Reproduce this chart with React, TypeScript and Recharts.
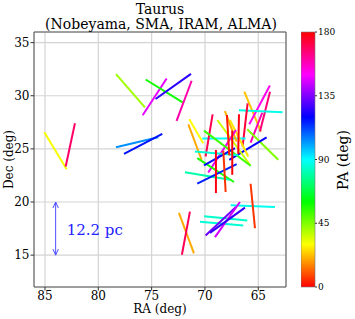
import React from 'react';
import { ComposedChart, Scatter, XAxis, YAxis, CartesianGrid, ReferenceArea, BarChart, Bar } from 'recharts';

const FONT = '"DejaVu Serif", serif';

// polarization segments: end points (deg) and position angle (deg)
const raStart = [
  85.06, 83.06, 78.34, 75.84, 75.56, 74.63, 72.66, 78.34, 77.59,
  66.31, 63.91, 63.9, 66.81, 66.0, 64.63, 66.03, 67.72, 70.25,
  71.47, 71.56, 69.28, 68.84, 68.13, 67.66, 67.09, 70.09, 70.94,
  70.72, 71.88, 70.72, 70.09, 68.97, 68.28, 67.94, 67.44, 66.81,
  72.44, 72.16, 67.59, 65.72, 70.09, 70.47, 69.94, 69.06, 69.53,
];
const decStart = [
  26.56, 23.34, 32.03, 28.16, 31.53, 29.69, 27.63, 25.16, 24.53,
  30.38, 30.97, 30.38, 28.63, 29.28, 28.4, 26.84, 23.97, 25.97,
  27.78, 27.31, 28.25, 27.72, 28.56, 27.72, 26.78, 26.72, 24.75,
  24.13, 22.81, 21.72, 23.44, 24.9, 24.84, 28.19, 26.72, 28.25,
  18.97, 15.03, 19.69, 21.72, 18.66, 18.13, 16.84, 16.69, 17.09,
];
const raEnd = [
  82.97, 82.19, 75.63, 73.59, 72.09, 71.31, 71.25, 74.38, 74.0,
  64.75, 65.84, 64.84, 62.72, 66.47, 65.72, 63.13, 64.22, 66.19,
  70.16, 70.31, 69.94, 65.72, 67.03, 65.94, 69.69, 65.72, 66.88,
  67.28, 67.66, 67.03, 67.19, 68.97, 68.06, 67.72, 67.44, 66.88,
  71.03, 71.41, 63.44, 65.31, 66.03, 66.41, 67.09, 66.72, 66.25,
];
const decEnd = [
  23.09, 27.41, 28.9, 31.63, 29.38, 32.06, 31.41, 26.09, 26.41,
  26.63, 27.31, 26.63, 28.44, 25.22, 25.59, 23.97, 26.09, 25.97,
  25.53, 23.97, 24.28, 23.41, 25.69, 24.28, 22.78, 23.41, 24.41,
  21.88, 22.09, 23.56, 25.06, 20.84, 20.94, 24.4, 22.56, 24.53,
  15.16, 19.09, 19.53, 17.53, 18.25, 17.78, 19.53, 20.0, 19.47,
];
const posAngle = [
  31, 168, 41, 147, 58, 125, 160, 103, 118,
  23, 152, 166, 87, 173, 159, 45, 121, 90,
  30, 20, 171, 36, 21, 27, 147, 53, 85,
  57, 80, 116, 119, 178, 6, 3, 0, 178,
  20, 170, 88, 6, 84, 85, 133, 145, 126,
];

const raTicks = [65, 70, 75, 80, 85];
const decTicks = [15, 20, 25, 30, 35];
const paTicks = [0, 45, 90, 135, 180];
const cbarStops = [0, 30, 60, 90, 120, 150, 180];
const cbarData = [{ name: 'PA', v: 180 }];

// 12.2 pc scale bar
const scaleBar = [{ x: 84, y: 15 }, { x: 84, y: 20 }];
const scaleText = [{ x: 82.97, y: 17.4, text: '12.2 pc' }];

const paColor = (pa: number) => `hsl(${(pa * 2) % 360}, 100%, 50%)`;

const ArrowHead = (props: any) => {
  const { cx, cy, payload } = props;
  const dir = payload.y > 17.5 ? 1 : -1; // top end points up
  return (
    <path
      d={`M${cx - 2.7},${cy + dir * 6} L${cx},${cy} L${cx + 2.7},${cy + dir * 6}`}
      fill="none"
      stroke="#4d4dff"
      strokeWidth={1}
    />
  );
};

const ScaleLabel = (props: any) => (
  <text x={props.cx} y={props.cy} dominantBaseline="central" fontSize={15} fontFamily={FONT} fill="#2222ff">
    {props.payload.text}
  </text>
);

export default function App() {
  const tickStyle = { fontSize: 12, fill: '#000', fontFamily: FONT };
  return (
    <div style={{ position: 'absolute', left: 0, top: 0, width: 355, height: 319, background: '#fff' }}>
      <ComposedChart width={355} height={319} margin={{ top: 32, right: 69, bottom: 0, left: 0 }}>
        <CartesianGrid stroke="#d4d4d4" strokeWidth={1.2} />
        <XAxis
          type="number"
          dataKey="x"
          domain={[62.4, 86.03]}
          reversed
          allowDataOverflow
          ticks={raTicks}
          height={32}
          tickSize={3.5}
          tickMargin={1}
          axisLine={false}
          tickLine={{ stroke: '#333' }}
          tick={tickStyle}
          label={{ value: 'RA (deg)', position: 'insideBottom', offset: 6, fontSize: 12, fill: '#000', fontFamily: FONT }}
        />
        <YAxis
          type="number"
          dataKey="y"
          domain={[12, 36]}
          allowDataOverflow
          ticks={decTicks}
          width={34}
          tickSize={3.5}
          tickMargin={1}
          axisLine={false}
          tickLine={{ stroke: '#333' }}
          tick={tickStyle}
          label={({ viewBox }: any) => {
            const x = viewBox.x + 9;
            const y = viewBox.y + viewBox.height / 2;
            return (
              <text x={x} y={y} transform={`rotate(-90 ${x} ${y})`} textAnchor="middle" dominantBaseline="central" fontSize={12} fontFamily={FONT} fill="#000">
                Dec (deg)
              </text>
            );
          }}
        />
        <ReferenceArea x1={62.4} x2={86.03} y1={12} y2={36} fill="none" stroke="#555" strokeWidth={1} />
        {raStart.map((ra, i) => (
          <Scatter
            key={i}
            data={[{ x: ra, y: decStart[i] }, { x: raEnd[i], y: decEnd[i] }]}
            line={{ stroke: paColor(posAngle[i]), strokeWidth: 2 }}
            shape={() => <g />}
            isAnimationActive={false}
          />
        ))}
        <Scatter data={scaleBar} line={{ stroke: '#4d4dff', strokeWidth: 1 }} shape={ArrowHead} isAnimationActive={false} />
        <Scatter data={scaleText} shape={ScaleLabel} isAnimationActive={false} />
      </ComposedChart>

      <div style={{ position: 'absolute', left: 301, top: 26 }}>
        <BarChart width={54} height={267} data={cbarData} margin={{ top: 6, right: 0, bottom: 6, left: 0 }} barCategoryGap={0}>
          <defs>
            <linearGradient id="hsvBar" x1="0" y1="1" x2="0" y2="0">
              {cbarStops.map((p) => (
                <stop key={p} offset={p / 180} stopColor={paColor(p)} />
              ))}
            </linearGradient>
          </defs>
          <XAxis dataKey="name" hide />
          <YAxis
            orientation="right"
            width={40}
            domain={[0, 180]}
            ticks={paTicks}
            tickSize={2}
            tickMargin={1}
            axisLine={false}
            tickLine={{ stroke: '#333' }}
            tick={{ fontSize: 9, fill: '#000', fontFamily: FONT }}
          />
          <Bar dataKey="v" fill="url(#hsvBar)" stroke="#777" strokeWidth={0.6} isAnimationActive={false} />
        </BarChart>
      </div>

      <svg width={355} height={319} style={{ position: 'absolute', left: 0, top: 0, pointerEvents: 'none' }}>
        <text x={160} y={14} textAnchor="middle" fontSize={14} fontFamily={FONT} fill="#000">Taurus</text>
        <text x={161} y={29} textAnchor="middle" fontSize={14} fontFamily={FONT} fill="#000">(Nobeyama, SMA, IRAM, ALMA)</text>
        <text x={343} y={160} transform="rotate(-90 343 160)" textAnchor="middle" dominantBaseline="central" fontSize={14} fontFamily={FONT} fill="#000">PA (deg)</text>
      </svg>
    </div>
  );
}
